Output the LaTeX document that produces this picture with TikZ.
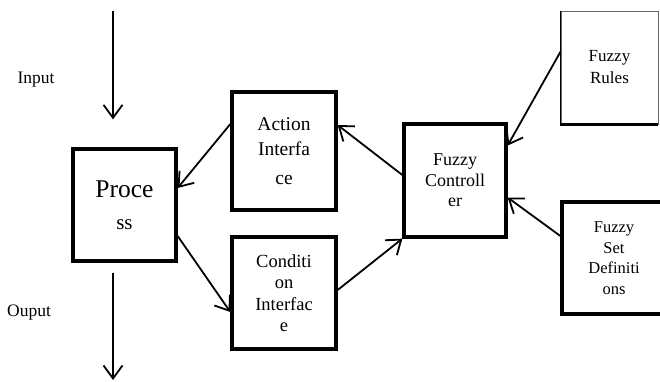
\documentclass[tikz,border=0pt]{standalone}
\usepackage{fontspec}
\setmainfont{Liberation Serif}
\usetikzlibrary{arrows.meta}
\begin{document}
\begin{tikzpicture}[x=1pt,y=-1pt,
  box/.style={draw, line width=3.3pt, align=center, inner sep=0pt},
  thinbox/.style={draw, line width=0.8pt, align=center, inner sep=0pt},
  flow/.style={line width=1.8pt, -{Straight Barb[length=13pt,width=19pt,line width=1.8pt]}},
  lbl/.style={font=\fontsize{17.5}{20}\selectfont, inner sep=0pt}]
  \useasboundingbox (0,0) rectangle (660,381);
  \clip (0,0) rectangle (660,381);

  % main blocks
  \node[box, minimum width=103, minimum height=112, font=\fontsize{25.5}{32}\selectfont] (proc) at (124.5,205)
    {Proce\\\fontsize{21}{24}\selectfont ss};
  \node[box, minimum width=104, minimum height=118, font=\fontsize{19.5}{25}\selectfont] (act) at (284,151)
    {Action\\Interfa\\[4pt]ce};
  \node[box, minimum width=104, minimum height=112, font=\fontsize{18.5}{21.5}\selectfont] (cond) at (284,293)
    {Conditi\\on\\Interfac\\e};
  \node[box, minimum width=102, minimum height=113, font=\fontsize{18}{20.5}\selectfont] (ctrl) at (455,180.5)
    {Fuzzy\\Controll\\er};

  % knowledge base blocks at the right margin
  \node[thinbox, draw=black!60, minimum width=97, minimum height=113, font=\fontsize{17}{22}\selectfont] (rules) at (609.5,67.5)
    {Fuzzy\\Rules};
  \draw[line width=0.8pt] (rules.north west) -- (rules.south west);
  \draw[line width=3.3pt] ([xshift=-0.4pt]rules.south west) -- (rules.south east);
  \node[box, minimum width=104, minimum height=112, font=\fontsize{16.5}{20.5}\selectfont] (sets) at (614,258)
    {Fuzzy\\Set\\Definiti\\ons};

  % loose ends of the process line
  \coordinate (inTop) at (113,11);
  \coordinate (outBot) at (113,380);
  \node[lbl] (inLbl) at (36,80) {Input};
  \node[lbl] (outLbl) at (29,313) {Ouput};

  % connectors
  \draw[flow] (inTop) -- ([xshift=-11.5pt,yshift=28pt]proc.north);
  \draw[flow] ([xshift=-11.5pt,yshift=-10pt]proc.south) -- (outBot);
  \draw[flow] ([yshift=16pt]rules.west) -- ([yshift=35pt]ctrl.east);
  \draw[flow] ([yshift=22pt]sets.west) -- ([yshift=-17pt]ctrl.east);
  \draw[flow] ([yshift=5.5pt]ctrl.west) -- ([yshift=26pt]act.east);
  \draw[flow] ([yshift=3pt]cond.east) -- (ctrl.south west);
  \draw[flow] ([yshift=27pt]act.west) -- ([yshift=17pt]proc.east);
  \draw[flow] ([yshift=-31pt]proc.east) -- ([yshift=-19pt]cond.west);
\end{tikzpicture}
\end{document}
